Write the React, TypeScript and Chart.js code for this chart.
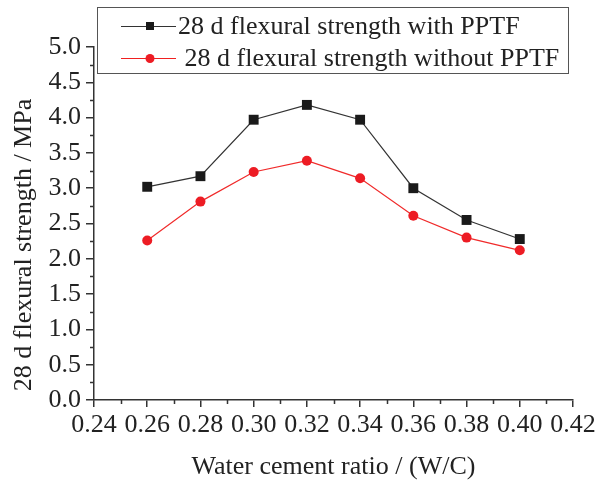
import React, { useEffect, useRef } from "react";
import { Chart, registerables } from "chart.js";

Chart.register(...registerables);

const wcRatio = [0.26, 0.28, 0.30, 0.32, 0.34, 0.36, 0.38, 0.40];
const withPPTF = [3.02, 3.17, 3.97, 4.18, 3.97, 3.0, 2.55, 2.28];
const withoutPPTF = [2.26, 2.81, 3.23, 3.39, 3.14, 2.61, 2.3, 2.12];
const seriesLabels = ["28 d flexural strength with PPTF", " 28 d flexural strength without PPTF"];
const xTitle = "Water cement ratio / (W/C)";
const yTitle = "28 d flexural strength / MPa";

const FONT = "'Liberation Serif', 'Times New Roman', serif";
const AXIS = "#333333";

const overlayPlugin = {
  id: "overlay",
  afterDraw(chart: any) {
    const ctx = chart.ctx;
    const xs = chart.scales.x;
    const ys = chart.scales.y;
    const area = chart.chartArea;
    ctx.save();
    // minor ticks
    ctx.strokeStyle = AXIS;
    ctx.lineWidth = 1.5;
    ctx.beginPath();
    for (let v = 0.25; v < 5; v += 0.5) {
      const py = Math.round(ys.getPixelForValue(v)) + 0.5;
      ctx.moveTo(area.left, py);
      ctx.lineTo(area.left - 4, py);
    }
    for (let v = 0.25; v < 0.42; v += 0.02) {
      const px = Math.round(xs.getPixelForValue(v)) + 0.5;
      ctx.moveTo(px, area.bottom);
      ctx.lineTo(px, area.bottom + 4);
    }
    ctx.stroke();

    // axis titles
    ctx.fillStyle = "#222";
    ctx.font = `26px ${FONT}`;
    ctx.textAlign = "center";
    ctx.textBaseline = "middle";
    ctx.fillText(xTitle, (area.left + area.right) / 2, 467);
    ctx.save();
    ctx.translate(24, 245);
    ctx.rotate(-Math.PI / 2);
    ctx.fillText(yTitle, 0, 0);
    ctx.restore();

    // legend
    ctx.strokeStyle = "#555";
    ctx.lineWidth = 1;
    ctx.strokeRect(97.5, 7.5, 471, 66);
    const rows = [
      { y: 26, line: "#333", fill: "#1a1a1a", shape: "rect" },
      { y: 58, line: "#f02020", fill: "#ed1c24", shape: "circle" },
    ];
    rows.forEach((r, i) => {
      ctx.strokeStyle = r.line;
      ctx.lineWidth = 1;
      ctx.beginPath();
      ctx.moveTo(121, r.y + 0.5);
      ctx.lineTo(176, r.y + 0.5);
      ctx.stroke();
      ctx.fillStyle = r.fill;
      if (r.shape === "rect") {
        ctx.fillRect(146, r.y - 4, 8, 8);
      } else {
        ctx.beginPath();
        ctx.arc(150, r.y + 0.5, 4.5, 0, Math.PI * 2);
        ctx.fill();
      }
      ctx.fillStyle = "#222";
      ctx.textAlign = "left";
      ctx.textBaseline = "middle";
      ctx.font = `26px ${FONT}`;
      ctx.fillText(seriesLabels[i], 178, r.y + 1);
    });
    ctx.restore();
  },
};

export default function App() {
  const ref = useRef<HTMLCanvasElement>(null);
  useEffect(() => {
    if (!ref.current) return;
    const chart = new Chart(ref.current, {
      type: "line",
      data: {
        datasets: [
          {
            label: seriesLabels[0],
            data: wcRatio.map((x, i) => ({ x, y: withPPTF[i] })),
            borderColor: "#333",
            backgroundColor: "#1a1a1a",
            borderWidth: 1.2,
            pointStyle: "rect",
            pointRadius: 7,
            pointBorderWidth: 0,
            tension: 0,
          },
          {
            label: seriesLabels[1],
            data: wcRatio.map((x, i) => ({ x, y: withoutPPTF[i] })),
            borderColor: "#f02a2a",
            backgroundColor: "#ed1c24",
            borderWidth: 1.2,
            pointStyle: "circle",
            pointRadius: 5,
            pointBorderWidth: 0,
            tension: 0,
          },
        ],
      },
      options: {
        animation: false,
        responsive: false,
        maintainAspectRatio: false,
        layout: { padding: { top: 47, right: 22, left: 0, bottom: 0 } },
        plugins: { legend: { display: false }, tooltip: { enabled: false } },
        scales: {
          x: {
            type: "linear",
            min: 0.24,
            max: 0.42,
            afterFit: (s: any) => {
              s.height = 81;
              s.paddingLeft = 0;
              s.paddingRight = 0;
            },
            ticks: {
              stepSize: 0.02,
              color: "#222",
              font: { family: FONT, size: 26 },
              padding: 3,
              maxRotation: 0,
              autoSkip: false,
              callback: (v: any) => Number(v).toFixed(2),
            },
            grid: {
              drawOnChartArea: false,
              drawTicks: true,
              tickLength: 7,
              color: AXIS,
              lineWidth: 1.5,
            },
            border: { display: true, color: AXIS, width: 1.5 },
          },
          y: {
            min: 0,
            max: 5,
            afterFit: (s: any) => {
              s.width = 94;
            },
            ticks: {
              stepSize: 0.5,
              color: "#222",
              font: { family: FONT, size: 26 },
              padding: 5,
              callback: (v: any) => Number(v).toFixed(1),
            },
            grid: {
              drawOnChartArea: false,
              drawTicks: true,
              tickLength: 8,
              color: AXIS,
              lineWidth: 1.5,
            },
            border: { display: true, color: AXIS, width: 1.5 },
          },
        },
      },
      plugins: [overlayPlugin],
    });
    return () => chart.destroy();
  }, []);
  return (
    <div style={{ position: "fixed", left: 0, top: 0, width: 595, height: 481, background: "#fff" }}>
      <canvas ref={ref} width={595} height={481} style={{ width: 595, height: 481 }} />
    </div>
  );
}
